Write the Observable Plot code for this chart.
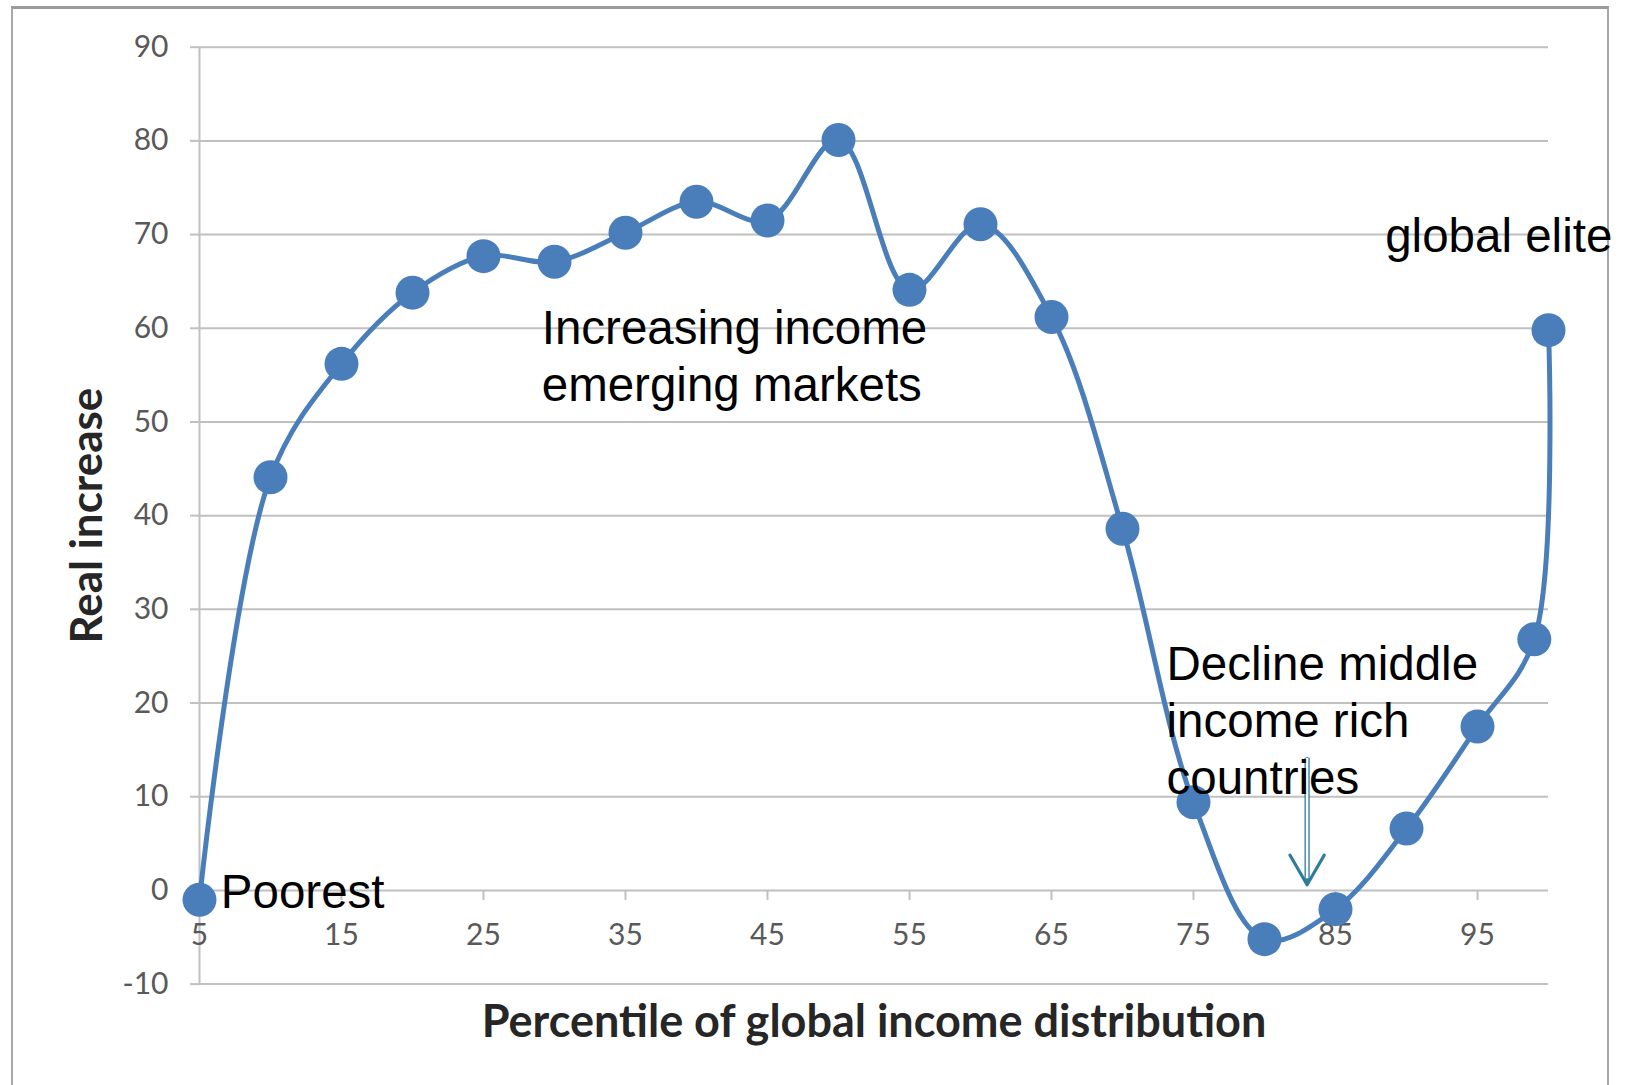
<!DOCTYPE html>
<html>
<head>
<meta charset="utf-8">
<script src="https://cdn.jsdelivr.net/npm/d3@7"></script>
<script src="https://cdn.jsdelivr.net/npm/@observablehq/plot@0.6"></script>
<style>
  html, body { margin: 0; padding: 0; background: #ffffff; }
  #wrap { position: relative; width: 1627px; height: 1085px; overflow: hidden; }
  #frame { position: absolute; left: 11px; top: 6px; width: 1598px; height: 1100px;
           border-top: 3px solid #9a9a9a; border-left: 2px solid #a8a8a8; border-right: 2px solid #a8a8a8;
           box-sizing: border-box; pointer-events: none; }
  svg { display: block; position: absolute; left: 0; top: 0; }
</style>
</head>
<body>
<div id="wrap"><div id="frame"></div></div>
<script>
// Data
const percentiles = [5, 10, 15, 20, 25, 30, 35, 40, 45, 50, 55, 60, 65, 70, 75, 80, 85, 90, 95, 99, 100];
const realIncrease = [-1.0, 44.1, 56.2, 63.8, 67.7, 67.1, 70.2, 73.5, 71.5, 80.1, 64.1, 71.1, 61.2, 38.6, 9.4, -5.2, -2.0, 6.6, 17.5, 26.8, 59.8];
const xTicks = [5, 15, 25, 35, 45, 55, 65, 75, 85, 95];
const yTicks = [-10, 0, 10, 20, 30, 40, 50, 60, 70, 80, 90];
const annotationText = ["Poorest", "Increasing income\nemerging markets", "global elite", "Decline middle\nincome rich\ncountries"];
const annotationX = [6.5, 29.1, 88.5, 73.1];
const annotationY = [0.1, 57.2, 70.1, 18.3];
const arrowX = [83];
const arrowFrom = [14.1];
const arrowTo = [0.6];
const xTitle = "Percentile of global income distribution";
const yTitle = "Real increase";

const data = percentiles.map((p, i) => ({p, v: realIncrease[i]}));
const notes = annotationText.map((t, i) => ({t, x: annotationX[i], y: annotationY[i]}));
const arrows = arrowX.map((x, i) => ({x, y1: arrowFrom[i], y2: arrowTo[i]}));

const blue = "#4a7ebb";
const teal = "#2e7d9c";
const gridColor = "#c0c0c0";

const chart = Plot.plot({
  width: 1627,
  height: 1085,
  marginTop: 46.7,
  marginBottom: 101.4,
  marginLeft: 199,
  marginRight: 79,
  style: {fontFamily: "Lato", color: "#595959", background: "transparent", overflow: "visible"},
  x: {domain: [5, 100], axis: null},
  y: {domain: [-10, 90], axis: null},
  marks: [
    Plot.gridY(yTicks, {stroke: gridColor, strokeOpacity: 1, strokeWidth: 2}),
    Plot.axisY(yTicks, {tickSize: 9, tickPadding: 22, fontSize: 30, label: null, tickFormat: d => String(d),
      stroke: gridColor, strokeWidth: 2, fill: "#595959"}),
    Plot.ruleX([5], {y1: -10, y2: 90, stroke: gridColor, strokeWidth: 2}),
    Plot.ruleX(xTicks.slice(1), {x: d => d, y1: 0, y2: 0, insetBottom: -10, stroke: gridColor, strokeWidth: 2}),
    Plot.text(xTicks, {x: d => d, y: 0, dy: 45, text: d => String(d), fontSize: 30, fill: "#595959"}),
    Plot.text([yTitle], {frameAnchor: "left", dx: -112, rotate: -90, textAnchor: "middle", lineAnchor: "middle",
      text: d => d, fontSize: 44, fontWeight: "bold", fill: "#262626"}),
    Plot.text([xTitle], {frameAnchor: "bottom", dy: 38, textAnchor: "middle", lineAnchor: "middle",
      text: d => d, fontSize: 45, fontWeight: "bold", fill: "#262626"}),
    Plot.line(data, {x: "p", y: "v", curve: "catmull-rom", stroke: blue, strokeWidth: 5}),
    Plot.dot(data, {x: "p", y: "v", r: 17, fill: blue, stroke: "none"}),
    Plot.arrow(arrows, {x1: "x", x2: "x", y1: "y1", y2: "y2", stroke: teal, strokeWidth: 3.2, headLength: 16}),
    Plot.ruleX(arrows, {x: "x", y1: "y1", y2: "y2", stroke: "#ffffff", strokeWidth: 3, insetBottom: 6}),
    Plot.ruleX(arrows, {x: "x", y1: "y1", y2: "y2", dx: -2, stroke: teal, strokeWidth: 1.2, insetBottom: 1}),
    Plot.ruleX(arrows, {x: "x", y1: "y1", y2: "y2", dx: 2, stroke: teal, strokeWidth: 1.2, insetBottom: 1}),
    Plot.text(notes, {x: "x", y: "y", text: "t", textAnchor: "start", lineAnchor: "middle", lineHeight: 1.2,
      fontSize: 47.5, fontFamily: "Liberation Sans, Arial, sans-serif", fill: "#000000"})
  ]
});
document.getElementById("wrap").appendChild(chart);
</script>
</body>
</html>
